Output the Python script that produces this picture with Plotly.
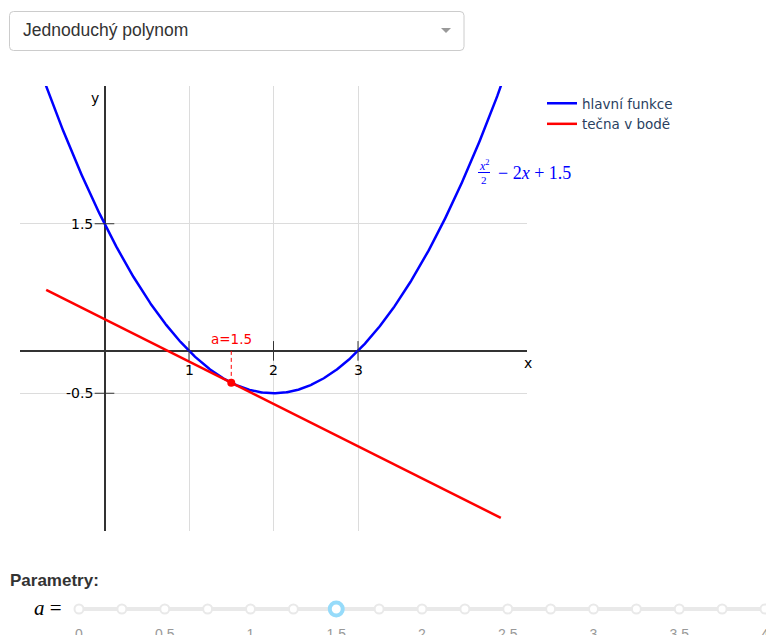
import numpy as np
import plotly.graph_objects as go

# ---- data -------------------------------------------------------------
W, H = 766, 635
coefs = [0.5, -2.0, 1.5]           # f(x) = 0.5 x^2 - 2 x + 1.5
a_value = 1.5                       # parameter a (tangent point)
x_range = [-1.0, 5.0]
y_range = [-2.125, 3.125]
x_ticks = [1, 2, 3]
y_ticks = [1.5, -0.5]
y_tick_text = ["1.5", "-0.5"]
slider_steps = [i * 0.25 for i in range(17)]          # 0 .. 4
slider_labels = ["0", "0.5", "1", "1.5", "2", "2.5", "3", "3.5", "4"]
slider_label_vals = [0, 0.5, 1, 1.5, 2, 2.5, 3, 3.5, 4]

TXT = "DejaVu Sans, Verdana, sans-serif"
SERIF = "Liberation Serif, DejaVu Serif, serif"
UI = "Liberation Sans, Arial, Helvetica, sans-serif"


def f(x):
    return np.polyval(coefs, x)


def df(x):
    return np.polyval(np.polyder(coefs), x)


def px(x):
    return x / W


def py(y):
    return 1 - y / H


xs = np.linspace(x_range[0], x_range[1], 601)
ys = f(xs)

# tangent drawn across the part of the curve that is inside the view
vis = xs[ys <= y_range[1]]
tx = np.array([vis.min(), vis.max()])
ty = f(a_value) + df(a_value) * (tx - a_value)
fa = float(f(a_value))

fig = go.Figure()

fig.add_trace(go.Scatter(x=xs, y=ys, mode="lines", name="hlavní funkce",
                         line=dict(color="#0000ff", width=2.5), hoverinfo="skip"))
fig.add_trace(go.Scatter(x=tx, y=ty, mode="lines", name="tečna v bodě",
                         line=dict(color="#ff0000", width=2.5), hoverinfo="skip"))
# dashed drop from the axis to the tangent point
fig.add_trace(go.Scatter(x=[a_value, a_value], y=[0, fa], mode="lines", showlegend=False,
                         line=dict(color="#ff0000", width=1, dash="4px,3px"), hoverinfo="skip"))
fig.add_trace(go.Scatter(x=[a_value], y=[fa], mode="markers", showlegend=False,
                         marker=dict(color="#ff0000", size=8), hoverinfo="skip"))

# tick marks crossing the axes
fig.add_trace(go.Scatter(x=x_ticks, y=[0] * len(x_ticks), mode="markers",
                         marker=dict(symbol="line-ns", size=14, line=dict(width=1, color="#333")),
                         showlegend=False, hoverinfo="skip", cliponaxis=False))
fig.add_trace(go.Scatter(x=[0] * len(y_ticks), y=y_ticks, mode="markers",
                         marker=dict(symbol="line-ew", size=14, line=dict(width=1, color="#333")),
                         showlegend=False, hoverinfo="skip", cliponaxis=False))

# slider: dots at each step and the handle at the current value
fig.add_trace(go.Scatter(x=slider_steps, y=[0] * len(slider_steps), mode="markers",
                         xaxis="x2", yaxis="y2", showlegend=False, hoverinfo="skip",
                         cliponaxis=False,
                         marker=dict(size=9, color="white", line=dict(width=2, color="#e9e9e9"))))
fig.add_trace(go.Scatter(x=[a_value], y=[0], mode="markers",
                         xaxis="x2", yaxis="y2", showlegend=False, hoverinfo="skip",
                         cliponaxis=False,
                         marker=dict(size=13, color="white", line=dict(width=4, color="#96dbfa"))))

shapes = []
# slider rail
shapes.append(dict(type="line", xref="paper", yref="paper", x0=px(75), x1=1.0,
                   y0=py(609), y1=py(609), line=dict(color="#e9e9e9", width=4), layer="below"))


# dropdown box with rounded corners
def rounded_rect(x0, y0, x1, y1, r):
    rx, ry = r / W, r / H
    X0, X1 = px(x0), px(x1)
    Y0, Y1 = py(y0), py(y1)  # Y0 top, Y1 bottom
    return (f"M {X0 + rx},{Y0} L {X1 - rx},{Y0} Q {X1},{Y0} {X1},{Y0 - ry} "
            f"L {X1},{Y1 + ry} Q {X1},{Y1} {X1 - rx},{Y1} "
            f"L {X0 + rx},{Y1} Q {X0},{Y1} {X0},{Y1 + ry} "
            f"L {X0},{Y0 - ry} Q {X0},{Y0} {X0 + rx},{Y0} Z")


shapes.append(dict(type="path", xref="paper", yref="paper",
                   path=rounded_rect(9.5, 11.5, 464, 50.5, 4),
                   line=dict(color="#cccccc", width=1), fillcolor="white"))
shapes.append(dict(type="path", xref="paper", yref="paper",
                   path=f"M {px(441)},{py(28)} L {px(451)},{py(28)} L {px(446)},{py(33)} Z",
                   line=dict(width=0), fillcolor="#999999"))
# fraction bar of the formula
shapes.append(dict(type="line", xref="paper", yref="paper", x0=px(478), x1=px(490),
                   y0=py(172.5), y1=py(172.5), line=dict(color="#0000ff", width=1)))

annotations = [
    dict(x=px(21), y=py(30), xref="paper", yref="paper", xanchor="left", yanchor="middle",
         text="Jednoduchý polynom", showarrow=False,
         font=dict(family=UI, size=17.5, color="#333333")),
    dict(x=px(8), y=py(580), xref="paper", yref="paper", xanchor="left", yanchor="middle",
         text="<b>Parametry:</b>", showarrow=False,
         font=dict(family=UI, size=17, color="#333333")),
    dict(x=px(64), y=py(608), xref="paper", yref="paper", xanchor="right", yanchor="middle",
         text="<i>a</i> =", showarrow=False,
         font=dict(family=SERIF, size=21, color="#000000")),
    # axis names
    dict(x=px(528), y=py(363), xref="paper", yref="paper", xanchor="center", yanchor="middle",
         text="x", showarrow=False, font=dict(family=TXT, size=14, color="#000")),
    dict(x=px(95), y=py(98), xref="paper", yref="paper", xanchor="center", yanchor="middle",
         text="y", showarrow=False, font=dict(family=TXT, size=14, color="#000")),
    # parameter label
    dict(x=a_value, y=0, xref="x", yref="y", xanchor="center", yanchor="bottom",
         yshift=2, text=f"a={a_value:g}", showarrow=False,
         font=dict(family=TXT, size=13.5, color="#ff0000")),
    # formula x^2/2 - 2x + 1.5
    dict(x=px(484), y=py(165), xref="paper", yref="paper", xanchor="center", yanchor="middle",
         text="<i>x</i><sup>2</sup>", showarrow=False,
         font=dict(family=SERIF, size=12, color="#0000ff")),
    dict(x=px(484), y=py(180), xref="paper", yref="paper", xanchor="center", yanchor="middle",
         text="2", showarrow=False, font=dict(family=SERIF, size=11, color="#0000ff")),
    dict(x=px(496), y=py(173), xref="paper", yref="paper", xanchor="left", yanchor="middle",
         text="− 2<i>x</i> + 1.5", showarrow=False,
         font=dict(family=SERIF, size=18, color="#0000ff")),
]

# tick labels next to the crossing tick marks
for v in x_ticks:
    annotations.append(dict(x=v, y=0, xref="x", yref="y", xanchor="center", yanchor="top",
                            yshift=-9, text=str(v), showarrow=False,
                            font=dict(family=TXT, size=14, color="#000")))
for v, t in zip(y_ticks, y_tick_text):
    annotations.append(dict(x=0, y=v, xref="x", yref="y", xanchor="right", yanchor="middle",
                            xshift=-10, text=t, showarrow=False,
                            font=dict(family=TXT, size=14, color="#000")))

axis_common = dict(automargin=False, fixedrange=True)

fig.update_layout(
    width=W, height=H,
    margin=dict(l=0, r=0, t=0, b=0, pad=0, autoexpand=False),
    paper_bgcolor="white", plot_bgcolor="white",
    font=dict(family=TXT, size=13, color="#2a3f5f"),
    showlegend=True,
    legend=dict(x=px(542), y=py(88), xanchor="left", yanchor="top",
                font=dict(family=TXT, size=13.5, color="#2a3f5f"),
                bgcolor="rgba(0,0,0,0)", itemwidth=30),
    xaxis=dict(domain=[px(20), px(527)], range=x_range, tickvals=x_ticks,
               showticklabels=False, ticks="", showgrid=True, gridcolor="#dcdcdc",
               gridwidth=1, zeroline=True, zerolinecolor="#333333", zerolinewidth=1.5,
               showline=False, **axis_common),
    yaxis=dict(domain=[1 - 531 / H, 1 - 86 / H], range=y_range, tickvals=y_ticks,
               showticklabels=False, ticks="", showgrid=True, gridcolor="#dcdcdc",
               gridwidth=1, zeroline=True, zerolinecolor="#333333", zerolinewidth=1.5,
               showline=False, **axis_common),
    xaxis2=dict(domain=[px(79), px(765)], range=[0, 4], anchor="y2",
                tickvals=slider_label_vals, ticktext=slider_labels,
                ticks="", ticklabeloverflow="allow",
                tickfont=dict(family=UI, size=14, color="#999999"),
                showgrid=False, zeroline=False, showline=False, **axis_common),
    yaxis2=dict(domain=[1 - 624 / H, 1 - 594 / H], range=[-1, 1], anchor="x2",
                visible=False, **axis_common),
    shapes=shapes,
    annotations=annotations,
)

fig.write_html("out.html")
